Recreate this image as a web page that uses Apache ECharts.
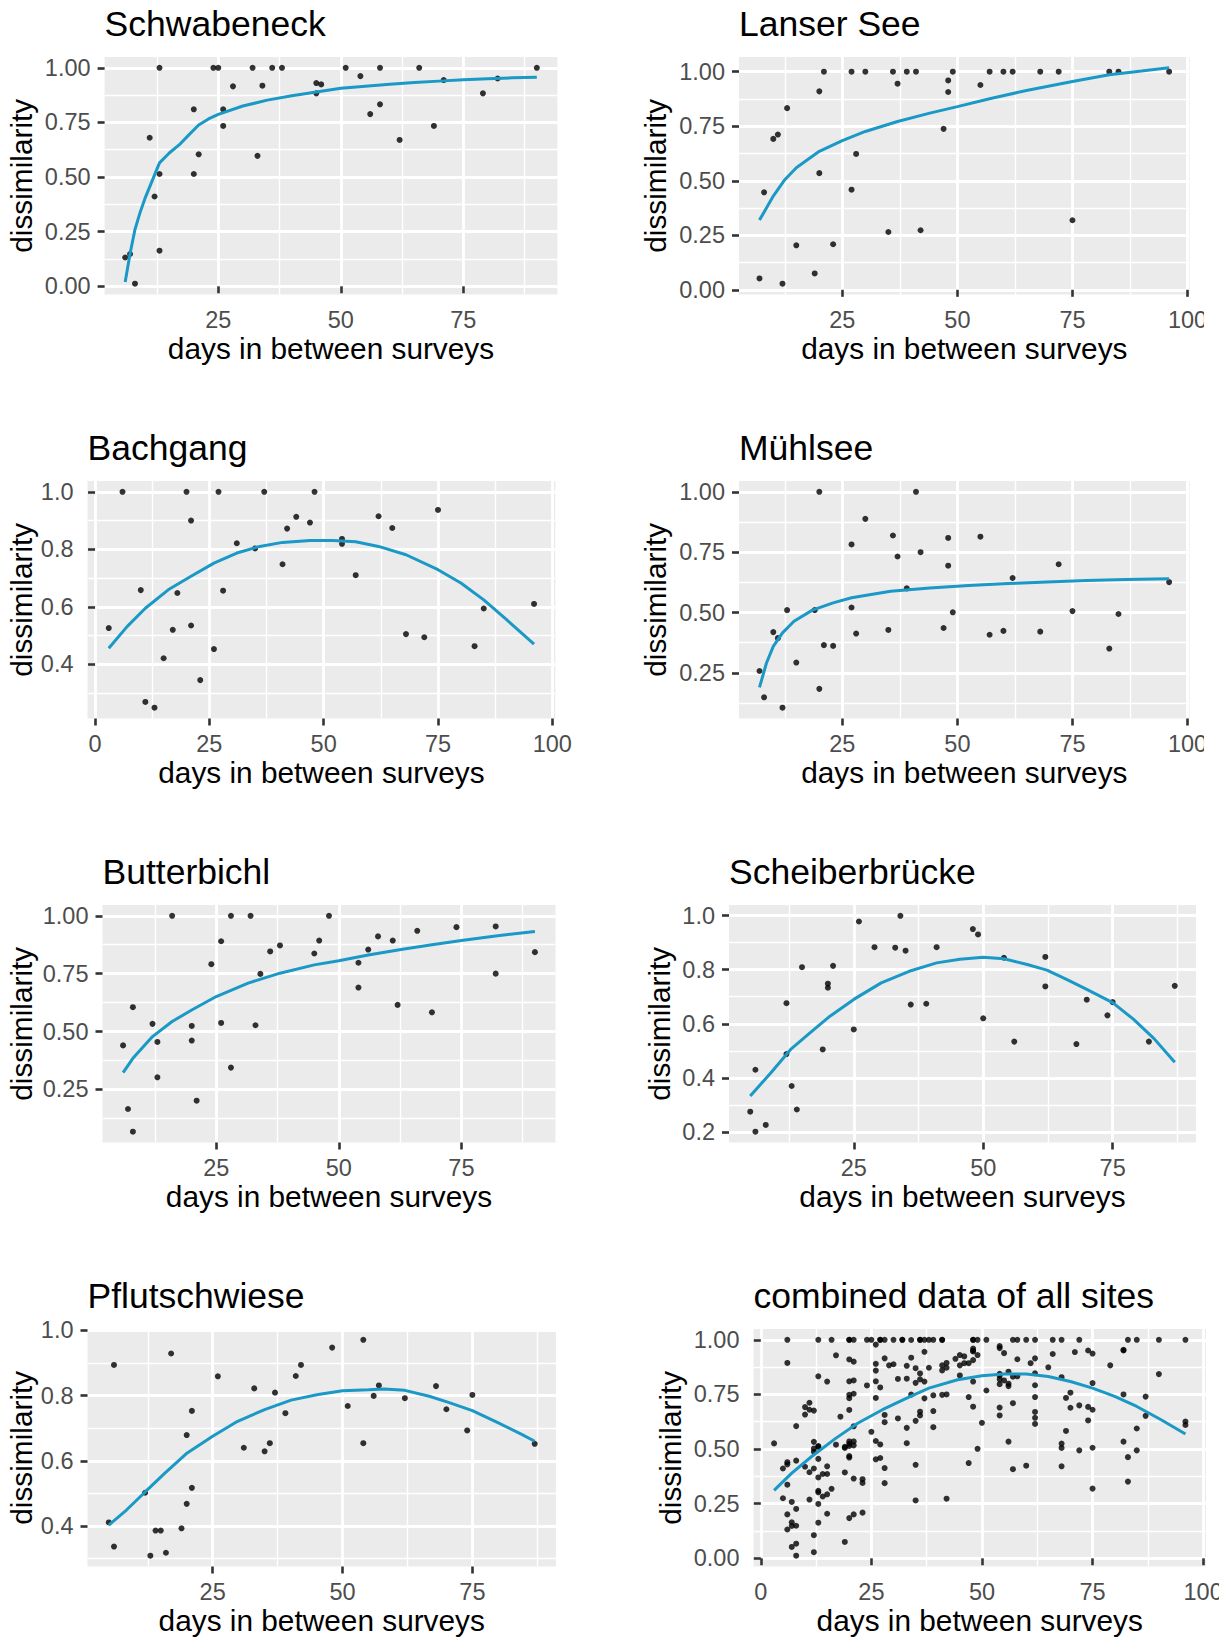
<!DOCTYPE html>
<html>
<head>
<meta charset="utf-8">
<script src="https://cdn.jsdelivr.net/npm/echarts@6/dist/echarts.min.js"></script>
<style>
  html, body { margin: 0; padding: 0; background: #ffffff; }
  #chart { width: 1231px; height: 1638px; }
</style>
</head>
<body>
<div id="chart"></div>
<script>
// ---------- observations: days between surveys vs. dissimilarity ----------
const schwabeneckDays   = [6, 7, 8, 11, 12, 13, 13, 13, 20, 20, 21, 24, 25, 26, 26, 28, 32, 33, 34, 36, 38, 45, 45, 46, 51, 54, 56, 58, 58, 62, 66, 69, 71, 79, 82, 90];
const schwabeneckDissim = [0.132, 0.148, 0.012, 0.680, 0.411, 1.0, 0.514, 0.163, 0.810, 0.514, 0.604, 1.0, 1.0, 0.810, 0.734, 0.915, 1.0, 0.597, 0.918, 1.0, 1.0, 0.930, 0.883, 0.924, 1.0, 0.962, 0.788, 1.0, 0.833, 0.670, 1.0, 0.734, 0.944, 0.883, 0.951, 1.0];

const lanserDays   = [7, 8, 10, 11, 12, 13, 15, 19, 20, 20, 21, 23, 27, 27, 28, 30, 35, 36, 37, 39, 41, 42, 47, 48, 48, 49, 55, 57, 60, 62, 68, 72, 75, 83, 85, 96];
const lanserDissim = [0.052, 0.447, 0.692, 0.712, 0.028, 0.833, 0.204, 0.075, 0.910, 0.535, 1.0, 0.209, 1.0, 0.459, 0.623, 1.0, 0.265, 1.0, 0.945, 1.0, 1.0, 0.273, 0.738, 0.960, 0.907, 1.0, 0.939, 1.0, 1.0, 1.0, 1.0, 1.0, 0.319, 1.0, 1.0, 1.0];

const bachgangDays   = [3, 6, 10, 11, 13, 15, 17, 18, 20, 21, 21, 23, 26, 27, 28, 31, 35, 37, 41, 42, 44, 47, 48, 54, 54, 57, 62, 65, 68, 72, 75, 83, 85, 96];
const bachgangDissim = [0.526, 1.0, 0.658, 0.269, 0.249, 0.421, 0.520, 0.648, 1.0, 0.900, 0.535, 0.345, 0.453, 1.0, 0.656, 0.821, 0.803, 1.0, 0.748, 0.872, 0.913, 0.893, 1.0, 0.836, 0.819, 0.710, 0.915, 0.874, 0.505, 0.494, 0.937, 0.463, 0.594, 0.610];

const muehlseeDays   = [7, 8, 10, 11, 12, 13, 15, 19, 20, 20, 21, 23, 27, 27, 28, 30, 35, 36, 37, 39, 41, 42, 47, 48, 48, 49, 55, 57, 60, 62, 68, 72, 75, 83, 85, 96];
const muehlseeDissim = [0.258, 0.149, 0.419, 0.394, 0.106, 0.510, 0.293, 0.510, 1.0, 0.184, 0.365, 0.362, 0.782, 0.521, 0.413, 0.888, 0.428, 0.819, 0.732, 0.600, 1.0, 0.750, 0.436, 0.809, 0.694, 0.501, 0.814, 0.408, 0.424, 0.643, 0.421, 0.700, 0.506, 0.351, 0.494, 0.626];

const butterbichlDays   = [6, 7, 8, 8, 12, 13, 13, 16, 20, 20, 21, 24, 26, 26, 28, 28, 32, 33, 34, 36, 38, 45, 46, 48, 54, 54, 56, 58, 61, 62, 66, 69, 74, 82, 82, 90];
const butterbichlDissim = [0.440, 0.165, 0.605, 0.067, 0.533, 0.455, 0.302, 1.0, 0.524, 0.461, 0.201, 0.791, 0.890, 0.537, 1.0, 0.344, 1.0, 0.527, 0.749, 0.846, 0.872, 0.837, 0.893, 1.0, 0.797, 0.690, 0.854, 0.911, 0.893, 0.615, 0.935, 0.583, 0.951, 0.954, 0.750, 0.843];

const scheiberDays   = [5, 6, 6, 8, 12, 12, 13, 14, 15, 19, 20, 20, 21, 25, 26, 29, 33, 34, 35, 36, 39, 41, 48, 49, 50, 54, 56, 62, 62, 68, 70, 74, 75, 82, 87];
const scheiberDissim = [0.275, 0.201, 0.430, 0.226, 0.676, 0.488, 0.370, 0.283, 0.809, 0.505, 0.748, 0.733, 0.814, 0.579, 0.978, 0.883, 0.881, 0.999, 0.870, 0.671, 0.674, 0.883, 0.950, 0.930, 0.620, 0.844, 0.534, 0.847, 0.738, 0.525, 0.689, 0.631, 0.680, 0.534, 0.740];

const pflutschDays   = [5, 6, 6, 12, 13, 14, 15, 16, 17, 19, 20, 20, 21, 21, 26, 31, 33, 35, 36, 37, 39, 41, 42, 48, 51, 54, 54, 56, 57, 62, 68, 70, 74, 75, 87];
const pflutschDissim = [0.411, 0.894, 0.337, 0.502, 0.309, 0.386, 0.386, 0.318, 0.929, 0.393, 0.679, 0.468, 0.753, 0.517, 0.859, 0.640, 0.822, 0.629, 0.654, 0.809, 0.746, 0.860, 0.894, 0.947, 0.768, 0.971, 0.654, 0.799, 0.831, 0.792, 0.829, 0.758, 0.693, 0.802, 0.652];

// ---------- fitted trend lines ----------
const schwabeneckFitDays = [6, 7, 8, 9, 10, 11, 12, 13, 15, 17, 19, 21, 23, 25, 30, 35, 40, 45, 50, 55, 60, 65, 70, 75, 80, 85, 90];
const schwabeneckFit     = [0.02, 0.15, 0.26, 0.335, 0.40, 0.455, 0.51, 0.565, 0.61, 0.647, 0.693, 0.738, 0.766, 0.787, 0.825, 0.852, 0.872, 0.889, 0.906, 0.916, 0.925, 0.933, 0.939, 0.945, 0.95, 0.954, 0.957];

const lanserFitDays = [7, 10, 12.5, 15, 20, 25, 30, 37, 44, 50, 57, 65, 75, 83, 90, 96];
const lanserFit     = [0.32, 0.43, 0.505, 0.56, 0.635, 0.684, 0.726, 0.772, 0.81, 0.84, 0.876, 0.914, 0.955, 0.986, 1.003, 1.018];

const bachgangFitDays = [3, 7, 11, 16, 21, 26, 31, 36, 41, 47, 52, 57, 62, 68, 75, 80, 85, 90, 96];
const bachgangFit     = [0.456, 0.531, 0.595, 0.659, 0.706, 0.752, 0.787, 0.81, 0.824, 0.831, 0.831, 0.826, 0.81, 0.781, 0.729, 0.683, 0.624, 0.555, 0.47];

const muehlseeFitDays = [7, 8.5, 10, 12, 14.5, 18.5, 23, 27, 35.5, 44, 52.5, 61, 69.5, 78, 86.5, 96];
const muehlseeFit     = [0.19, 0.29, 0.36, 0.416, 0.464, 0.51, 0.54, 0.561, 0.588, 0.602, 0.612, 0.62, 0.627, 0.633, 0.637, 0.64];

const butterbichlFitDays = [6, 8, 12, 16, 20, 25, 31.5, 38, 45, 50, 56, 63, 69, 75, 82, 90];
const butterbichlFit     = [0.322, 0.384, 0.478, 0.543, 0.593, 0.651, 0.709, 0.752, 0.788, 0.806, 0.831, 0.855, 0.875, 0.893, 0.913, 0.932];

const scheiberFitDays = [5, 9, 12.8, 16.6, 20.4, 25, 30.3, 35.7, 41, 45.5, 50, 54, 58.5, 62.3, 66.1, 70, 75, 79, 83, 87];
const scheiberFit     = [0.333, 0.419, 0.505, 0.567, 0.628, 0.69, 0.751, 0.794, 0.825, 0.838, 0.846, 0.84, 0.819, 0.798, 0.764, 0.727, 0.678, 0.617, 0.545, 0.458];

const pflutschFitDays = [5, 8.4, 12.1, 15.8, 20.1, 25, 29.8, 35, 40.1, 45.3, 50, 55, 58, 62, 66.7, 70.4, 75, 80, 84.4, 87];
const pflutschFit     = [0.403, 0.449, 0.506, 0.562, 0.624, 0.675, 0.721, 0.757, 0.786, 0.803, 0.815, 0.818, 0.82, 0.816, 0.798, 0.779, 0.754, 0.716, 0.682, 0.66];

const combinedFitDays = [3, 7, 11.5, 17, 22, 27.5, 33, 38, 44.5, 50, 55, 60, 65, 70, 75, 80, 85, 90.5, 96];
const combinedFit     = [0.311, 0.39, 0.466, 0.55, 0.619, 0.68, 0.733, 0.779, 0.817, 0.835, 0.843, 0.843, 0.832, 0.809, 0.779, 0.741, 0.695, 0.634, 0.569];

// ---------- axis breaks ----------
const dayTicks      = [0, 25, 50, 75, 100];
const quarterTicks  = [0, 0.25, 0.5, 0.75, 1.0];
const fifthTicks    = [0.2, 0.4, 0.6, 0.8, 1.0];

// the last panel pools every site
const combinedDays = [].concat(schwabeneckDays, lanserDays, bachgangDays, muehlseeDays, butterbichlDays, scheiberDays, pflutschDays);
const combinedDissim = [].concat(schwabeneckDissim, lanserDissim, bachgangDissim, muehlseeDissim, butterbichlDissim, scheiberDissim, pflutschDissim);

const panels = [
  { title: 'Schwabeneck', days: schwabeneckDays, dissim: schwabeneckDissim, fitDays: schwabeneckFitDays, fit: schwabeneckFit, yTicks: quarterTicks, digits: 2 },
  { title: 'Lanser See', days: lanserDays, dissim: lanserDissim, fitDays: lanserFitDays, fit: lanserFit, yTicks: quarterTicks, digits: 2 },
  { title: 'Bachgang', days: bachgangDays, dissim: bachgangDissim, fitDays: bachgangFitDays, fit: bachgangFit, yTicks: fifthTicks, digits: 1 },
  { title: 'Mühlsee', days: muehlseeDays, dissim: muehlseeDissim, fitDays: muehlseeFitDays, fit: muehlseeFit, yTicks: quarterTicks, digits: 2 },
  { title: 'Butterbichl', days: butterbichlDays, dissim: butterbichlDissim, fitDays: butterbichlFitDays, fit: butterbichlFit, yTicks: quarterTicks, digits: 2 },
  { title: 'Scheiberbrücke', days: scheiberDays, dissim: scheiberDissim, fitDays: scheiberFitDays, fit: scheiberFit, yTicks: fifthTicks, digits: 1 },
  { title: 'Pflutschwiese', days: pflutschDays, dissim: pflutschDissim, fitDays: pflutschFitDays, fit: pflutschFit, yTicks: fifthTicks, digits: 1 },
  { title: 'combined data of all sites', days: combinedDays, dissim: combinedDissim, fitDays: combinedFitDays, fit: combinedFit, yTicks: quarterTicks, digits: 2 }
];

// ---------- page layout (pixels) ----------
const rowTop = [57, 481, 905, 1329];
const panelHeight = 237.5;
const layout = [
  { left: 104.6, width: 452.8, row: 0, yNameGap: 68 },
  { left: 739,   width: 450.6, row: 0, yNameGap: 68.5 },
  { left: 87.5,  width: 467.8, row: 1, yNameGap: 51 },
  { left: 739,   width: 450.6, row: 1, yNameGap: 68.5 },
  { left: 102.5, width: 453,   row: 2, yNameGap: 66 },
  { left: 729,   width: 467,   row: 2, yNameGap: 54.5 },
  { left: 87.5,  width: 468.5, row: 3, yNameGap: 51 },
  { left: 753.5, width: 452.5, row: 3, yNameGap: 68 }
];

const FONT = "'Liberation Sans', Arial, Helvetica, sans-serif";
const PANEL_BG = '#EBEBEB';
const TICK_TEXT = '#4D4D4D';
const TICK_LINE = '#333333';
const FIT_COLOR = '#1A98C6';

// range padded by 5% on each side, covering points and trend line
function paddedRange(a, b) {
  const all = a.concat(b);
  const lo = Math.min.apply(null, all), hi = Math.max.apply(null, all);
  const pad = (hi - lo) * 0.05;
  return [lo - pad, hi + pad];
}
function inRange(vals, r) { return vals.filter(v => v >= r[0] - 1e-9 && v <= r[1] + 1e-9); }
function minorOf(ticks, r) {
  const step = ticks[1] - ticks[0];
  const out = ticks.map(v => v - step / 2).concat([ticks[ticks.length - 1] + step / 2]);
  return inRange(out, r);
}

const option = {
  animation: false,
  backgroundColor: '#ffffff',
  title: [], grid: [], xAxis: [], yAxis: [], series: [], graphic: []
};

panels.forEach((p, i) => {
  const L = layout[i];
  const top = rowTop[L.row];
  const xr = paddedRange(p.days, p.fitDays);
  const yr = paddedRange(p.dissim, p.fit);
  const xMajor = inRange(dayTicks, xr);
  const yMajor = inRange(p.yTicks, yr);
  const xMinor = minorOf(dayTicks, xr);
  const yMinor = minorOf(p.yTicks, yr);

  option.title.push({
    text: p.title, left: L.left, top: top - 51, padding: 0,
    textStyle: { fontFamily: FONT, fontSize: 35.5, fontWeight: 'normal', color: '#000' }
  });

  option.grid.push({
    left: L.left, top: top, width: L.width, height: panelHeight,
    show: true, backgroundColor: PANEL_BG, borderWidth: 0,
    containLabel: false, outerBoundsMode: 'none'
  });

  // minor grid lines
  option.xAxis.push({
    gridIndex: i, type: 'value', min: xr[0], max: xr[1], z: 0,
    axisLine: { show: false }, axisLabel: { show: false },
    axisTick: { show: false, customValues: xMinor },
    splitLine: { show: true, lineStyle: { color: '#ffffff', width: 1.4 } }
  });
  option.yAxis.push({
    gridIndex: i, type: 'value', min: yr[0], max: yr[1], z: 0,
    axisLine: { show: false }, axisLabel: { show: false },
    axisTick: { show: false, customValues: yMinor },
    splitLine: { show: true, lineStyle: { color: '#ffffff', width: 1.4 } }
  });

  // major grid, ticks, labels and titles
  option.xAxis.push({
    gridIndex: i, type: 'value', min: xr[0], max: xr[1], z: 1, position: 'bottom',
    axisLine: { show: false },
    axisTick: { show: true, length: 7, customValues: xMajor, lineStyle: { color: TICK_LINE, width: 2.6 } },
    axisLabel: { customValues: xMajor, color: TICK_TEXT, fontSize: 23.5, fontFamily: FONT, margin: 13,
                 formatter: v => String(Math.round(v)) },
    splitLine: { show: true, lineStyle: { color: '#ffffff', width: 2.8 } },
    name: 'days in between surveys', nameLocation: 'middle', nameGap: 39, nameMoveOverlap: false,
    nameTextStyle: { fontFamily: FONT, fontSize: 29.8, color: '#000' }
  });
  option.yAxis.push({
    gridIndex: i, type: 'value', min: yr[0], max: yr[1], z: 1, position: 'left',
    axisLine: { show: false },
    axisTick: { show: true, length: 7, customValues: yMajor, lineStyle: { color: TICK_LINE, width: 2.6 } },
    axisLabel: { customValues: yMajor, color: TICK_TEXT, fontSize: 23.5, fontFamily: FONT, margin: 14,
                 formatter: v => v.toFixed(p.digits) },
    splitLine: { show: true, lineStyle: { color: '#ffffff', width: 2.8 } },
    name: 'dissimilarity', nameLocation: 'middle', nameGap: L.yNameGap, nameMoveOverlap: false,
    nameTextStyle: { fontFamily: FONT, fontSize: 29.8, color: '#000' }
  });

  option.series.push({
    type: 'scatter', xAxisIndex: 2 * i + 1, yAxisIndex: 2 * i + 1, silent: true,
    symbol: 'circle', symbolSize: 6, itemStyle: { color: '#000' },
    data: p.days.map((d, k) => [d, p.dissim[k]]), z: 3
  });
  option.series.push({
    type: 'line', xAxisIndex: 2 * i + 1, yAxisIndex: 2 * i + 1, silent: true,
    showSymbol: false, symbol: 'none', smooth: false,
    lineStyle: { color: FIT_COLOR, width: 3 },
    data: p.fitDays.map((d, k) => [d, p.fit[k]]), z: 4
  });
});

// the figure cells crop the right-most "100" labels
option.graphic = [
  { type: 'rect', shape: { x: 1204, y: 300, width: 27, height: 40 }, style: { fill: '#ffffff' }, z: 100 },
  { type: 'rect', shape: { x: 1204, y: 724, width: 27, height: 40 }, style: { fill: '#ffffff' }, z: 100 },
  { type: 'rect', shape: { x: 1219, y: 1572, width: 12, height: 40 }, style: { fill: '#ffffff' }, z: 100 }
];

const chart = echarts.init(document.getElementById('chart'), null, { renderer: 'svg' });
chart.setOption(option);
</script>
</body>
</html>
